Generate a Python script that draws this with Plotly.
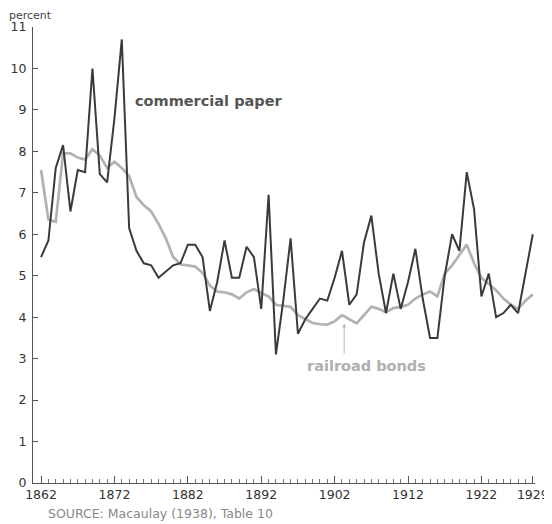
import plotly.graph_objects as go

years = list(range(1862, 1930))

commercial_paper = [
    5.45, 5.85, 7.6, 8.15, 6.55, 7.55, 7.5, 10.0, 7.45, 7.25,   # 1862-1871
    8.8, 10.7, 6.15, 5.6, 5.3, 5.25, 4.95, 5.1, 5.25, 5.3,      # 1872-1881
    5.75, 5.75, 5.45, 4.15, 4.85, 5.85, 4.95, 4.95, 5.7, 5.45,  # 1882-1891
    4.2, 6.95, 3.1, 4.4, 5.9, 3.6, 3.95, 4.2, 4.45, 4.4,        # 1892-1901
    4.95, 5.6, 4.3, 4.55, 5.8, 6.45, 5.05, 4.1, 5.05, 4.2,      # 1902-1911
    4.85, 5.65, 4.45, 3.5, 3.5, 5.0, 6.0, 5.6, 7.5, 6.6,        # 1912-1921
    4.5, 5.05, 4.0, 4.1, 4.3, 4.1, 5.1, 6.0,                    # 1922-1929
]

railroad_bonds = [
    7.55, 6.35, 6.3, 7.95, 7.95, 7.85, 7.8, 8.05, 7.9, 7.6,     # 1862-1871
    7.75, 7.6, 7.4, 6.9, 6.7, 6.55, 6.25, 5.9, 5.45, 5.27,      # 1872-1881
    5.25, 5.22, 5.07, 4.76, 4.62, 4.6, 4.55, 4.45, 4.6, 4.68,   # 1882-1891
    4.58, 4.5, 4.3, 4.28, 4.25, 4.05, 3.95, 3.86, 3.83, 3.82,   # 1892-1901
    3.9, 4.05, 3.95, 3.85, 4.05, 4.25, 4.2, 4.12, 4.22, 4.25,   # 1902-1911
    4.3, 4.45, 4.55, 4.62, 4.5, 5.05, 5.25, 5.5, 5.75, 5.3,     # 1912-1921
    4.95, 4.8, 4.65, 4.45, 4.3, 4.2, 4.4, 4.55,                 # 1922-1929
]

x_tick_vals = [1862, 1872, 1882, 1892, 1902, 1912, 1922, 1929]
x_tick_text = ["1862", "1872", "1882", "1892", "1902", "1912", "1922", "1929"]
y_tick_vals = list(range(0, 12))

FONT = "DejaVu Sans"
DARK = "#3a3a3a"
LIGHT = "#b2b2b2"

# page body has an 8px margin, so the figure is sized to fit inside the window
W, H = 544, 516
ML, MR, MT, MB = 25, 17, 19, 41
PW, PH = W - ML - MR, H - MT - MB

fig = go.Figure()
fig.add_trace(go.Scatter(x=years, y=railroad_bonds, mode="lines",
                         line=dict(color=LIGHT, width=2.7), name="railroad bonds",
                         hoverinfo="skip"))
fig.add_trace(go.Scatter(x=years, y=commercial_paper, mode="lines",
                         line=dict(color=DARK, width=2), name="commercial paper",
                         hoverinfo="skip"))

fig.update_layout(
    width=W, height=H,
    margin=dict(l=ML, r=MR, t=MT, b=MB, autoexpand=False),
    paper_bgcolor="white", plot_bgcolor="white",
    showlegend=False,
    font=dict(family=FONT, color="#333333"),
    xaxis=dict(
        range=[1860.9, 1929.3], automargin=False,
        showgrid=False, zeroline=False,
        showline=True, linecolor="#555555", linewidth=1.2,
        tickmode="array", tickvals=x_tick_vals, ticktext=x_tick_text,
        ticks="inside", ticklen=7, tickcolor="#555555", tickwidth=1,
        tickfont=dict(size=12.5, family=FONT, color="#333333"),
        minor=dict(tickmode="array", tickvals=years, ticks="inside",
                   ticklen=4, tickcolor="#777777", tickwidth=1),
    ),
    yaxis=dict(
        range=[0, 11], automargin=False,
        showgrid=False, zeroline=False,
        showline=True, linecolor="#555555", linewidth=1.2,
        tickmode="array", tickvals=y_tick_vals,
        ticks="inside", ticklen=5, tickcolor="#555555", tickwidth=1,
        tickfont=dict(size=12.5, family=FONT, color="#333333"),
        ticklabelstandoff=3,
    ),
)

fig.add_annotation(text="percent", xref="paper", yref="paper",
                   x=-ML / PW, y=1 + MT / PH, xanchor="left", yanchor="top",
                   borderpad=0, showarrow=False,
                   font=dict(size=11, family=FONT, color="#444444"))

fig.add_annotation(text="<b>commercial paper</b>", xref="x", yref="y",
                   x=1874.5, y=9.22, xanchor="left", yanchor="middle",
                   showarrow=False, font=dict(size=14.5, family=FONT, color="#555555"))

fig.add_annotation(text="<b>railroad bonds</b>", xref="x", yref="y",
                   x=1898.0, y=2.82, xanchor="left", yanchor="middle",
                   showarrow=False, font=dict(size=14.5, family=FONT, color="#b0b0b0"))

fig.add_annotation(text="", xref="x", yref="y", x=1903.3, y=3.85,
                   ax=0, ay=32, showarrow=True, arrowhead=2, arrowsize=0.8,
                   arrowwidth=1, arrowcolor="#b8b8b8")

fig.add_annotation(text="SOURCE: Macaulay (1938), Table 10", xref="paper", yref="paper",
                   x=13 / PW, y=-31 / PH, xanchor="left", yanchor="middle",
                   showarrow=False, font=dict(size=12.5, family=FONT, color="#888888"))

fig.write_html("out.html")
